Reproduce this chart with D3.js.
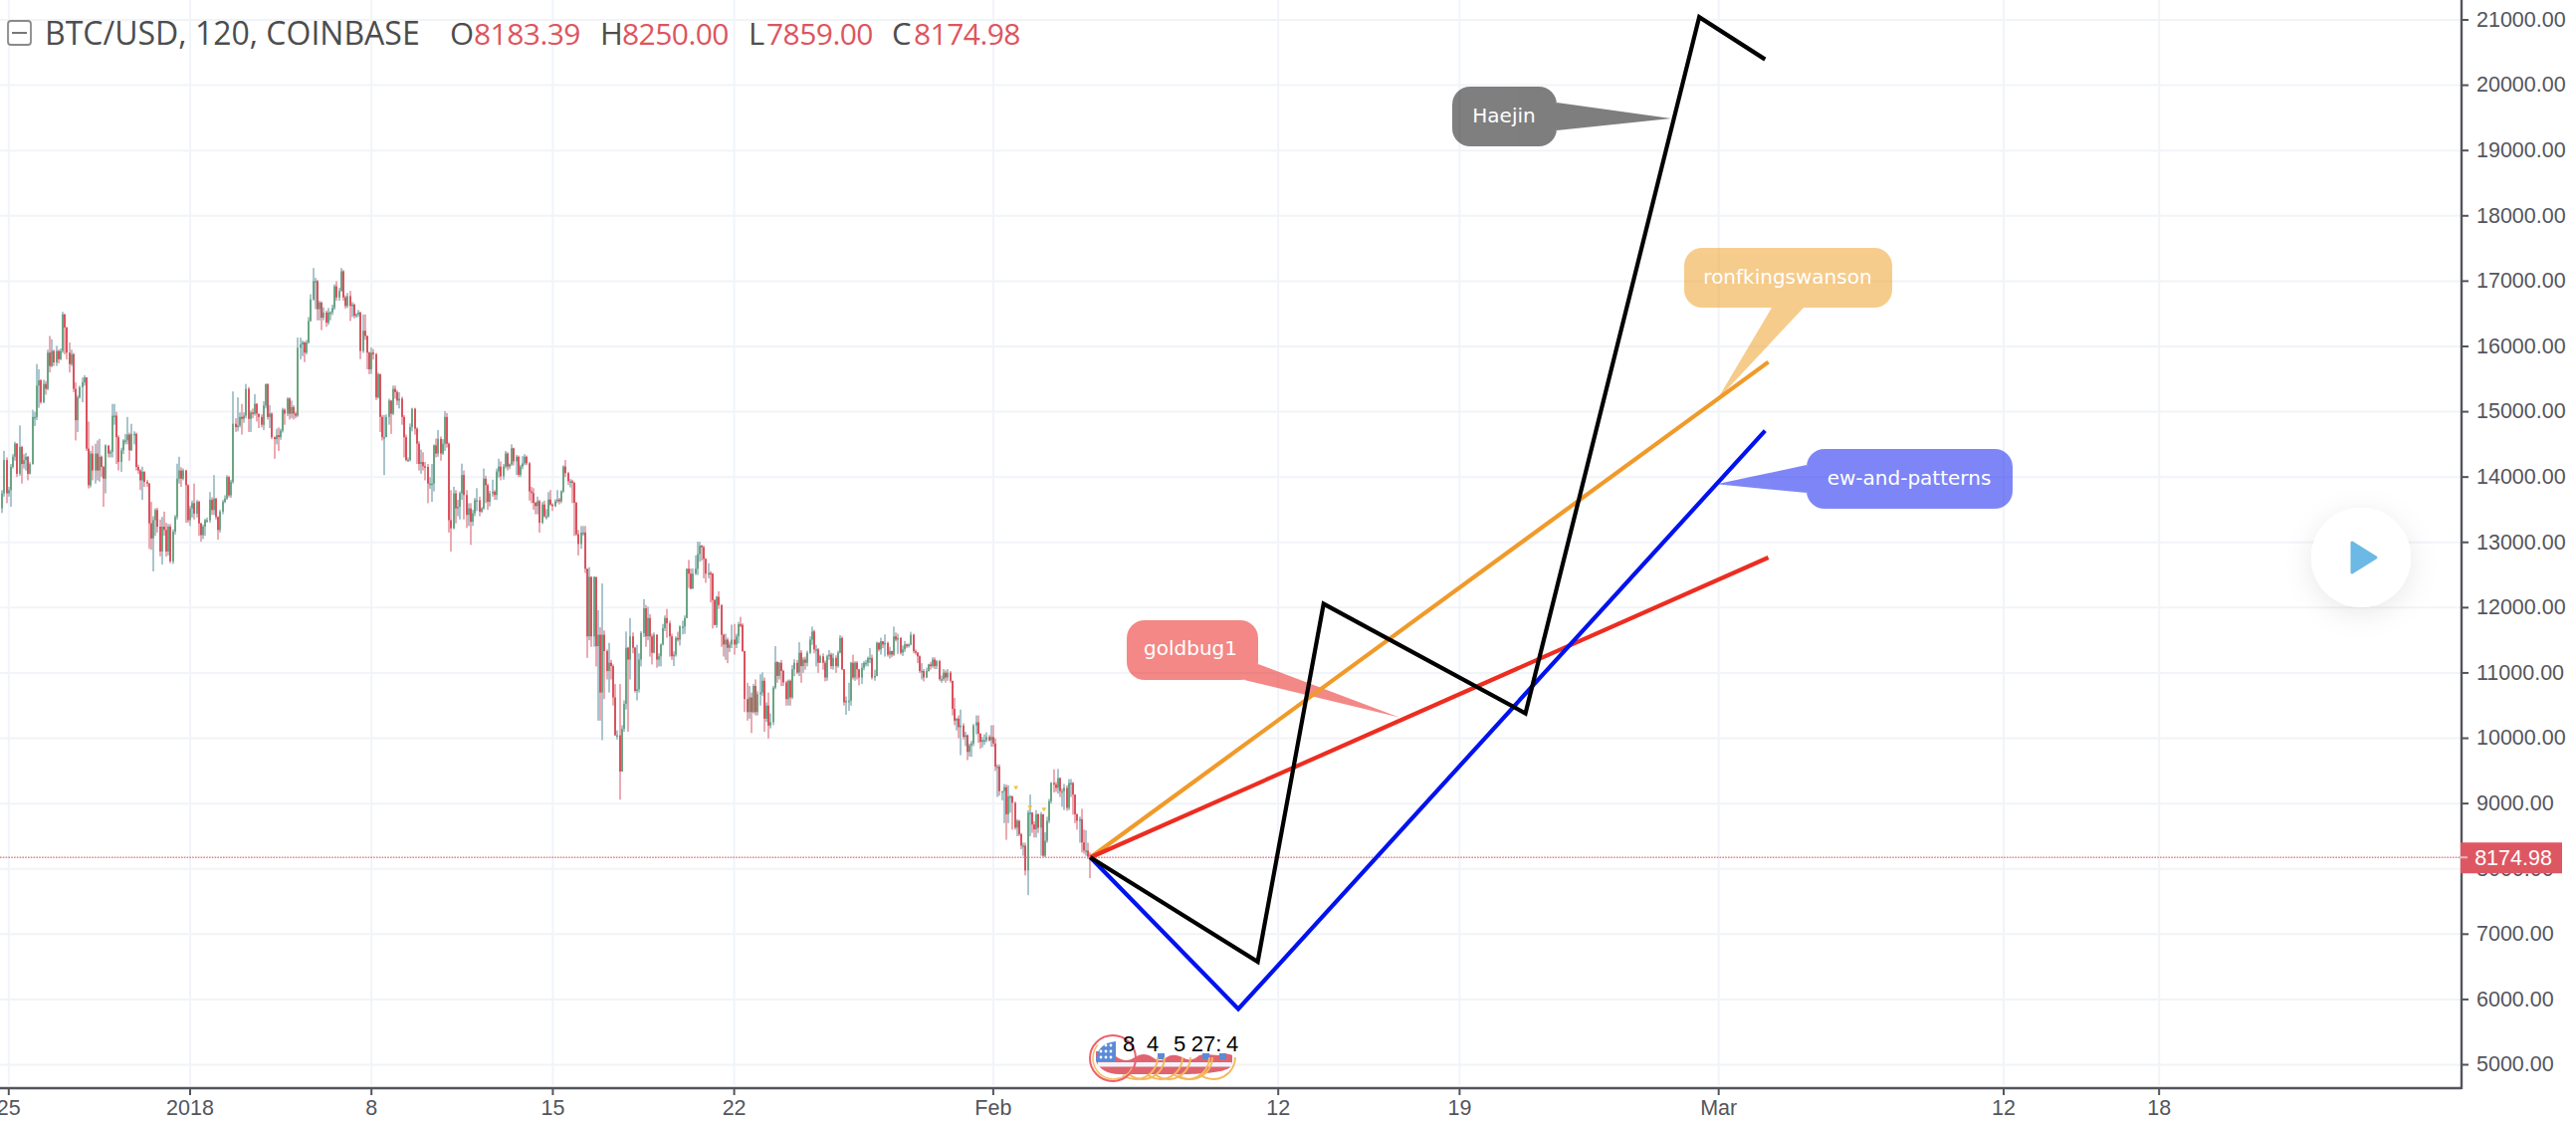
<!DOCTYPE html>
<html>
<head>
<meta charset="utf-8">
<title>BTC/USD, 120, COINBASE</title>
<script src="https://cdn.jsdelivr.net/npm/d3@7/dist/d3.min.js"></script>
<style>
  html, body { margin: 0; padding: 0; background: #fff; overflow: hidden; }
  svg { display: block; }
</style>
</head>
<body>
<svg id="chart" width="2588" height="1128"></svg>
<script>
// Two-hour candles, one row per calendar day. Each open is the previous close.
const firstOpen = 13520;
const firstBar = "2017-12-24T18:00:00Z";
const closes = [
  13750,14260,13750,
  13800,14155,14310,14510,14050,14460,14200,14260,14310,14050,14200,14920,
  14920,15400,15480,15145,15425,15350,15905,15700,15930,15755,15930,15805,
  15930,16490,16290,15905,15730,15880,15350,14870,15220,15375,15450,15525,
  14435,13875,14360,14100,14360,14100,14310,14155,13975,14485,14360,14385,
  14940,14940,14610,14230,14410,14560,14560,14650,14410,14660,14660,14155,
  14100,13950,14080,13925,13900,13290,13060,13340,13495,13240,12860,13240,
  13190,12860,13240,12710,13165,13390,13975,14100,13975,14100,13875,13340,
  13520,13600,13440,13620,13290,13110,13240,13340,13340,13650,13495,13670,
  13390,13190,13470,13620,13670,14000,13720,13925,14815,14765,14790,14920,
  14890,14940,15350,14890,14990,14970,15120,14970,14920,14800,15095,15425,
  14920,14970,14610,14580,14640,14610,14710,15030,14970,15200,14970,15070,
  14970,14940,15980,16030,16060,15905,16060,16390,16720,17000,17000,16570,
  16670,16440,16520,16365,16520,16520,16590,16920,16750,16850,17150,16750,
  16620,16770,16620,16640,16470,16490,16520,15930,16240,16160,15905,15650,
  15905,15880,15220,15575,14920,14610,14610,14920,15170,14970,15350,15300,
  15170,15200,14920,14610,14260,14260,14765,15045,14740,14510,14200,14230,
  14165,14155,13900,13900,13900,14485,14360,14585,14360,14510,14920,14510,
  13340,13215,13750,13520,13545,13750,14030,13725,13420,13520,13315,13445,
  13645,13645,13470,13520,13975,13875,13620,13750,13775,13725,14085,14160,
  14010,14160,14360,14160,14195,14440,14240,14310,14035,14160,14210,14310,
  14210,13780,13755,13605,13555,13630,13300,13580,13400,13400,13655,13580,
  13555,13630,13655,13630,13780,14160,14060,13935,13935,13910,13605,13125,
  12975,13150,13150,12595,11560,12470,11560,12470,11410,11585,10700,11585,
  11335,11030,11155,11105,10625,10045,10045,9490,10145,10525,11385,11205,
  11560,11385,10725,10750,11205,11610,11990,11560,11840,11560,11310,11585,
  11205,11255,11435,11685,11840,11760,11560,11255,11280,11535,11510,11710,
  11710,11840,12595,12520,12290,12520,12595,12820,12950,12925,12745,12520,
  12530,12520,12115,11735,12165,12040,11585,11435,11510,11385,11435,11510,
  11435,11560,11745,11735,11335,10600,10400,10625,10400,10800,10400,10675,
  10700,10880,10300,10500,10195,10245,10775,11165,10955,11155,11030,10855,
  10600,10880,10625,11055,11155,11005,11310,11105,11205,11155,11310,11510,
  11635,11360,11360,11155,11255,11155,10930,11255,11280,11105,11230,11105,
  11310,11535,11055,10550,10575,10575,11155,10930,11155,11055,10930,11080,
  11155,11155,11230,11230,10930,10955,11460,11360,11485,11435,11460,11280,
  11335,11280,11560,11510,11535,11310,11360,11435,11410,11435,11585,11335,
  11310,11255,11030,11030,10930,11030,11130,11105,11205,11105,11180,10905,
  10905,11005,10930,11005,10880,10450,10270,10300,10170,10195,10020,10045,
  9790,9890,9920,10195,10245,10070,9945,9970,9970,10020,9970,10020,
  9920,9565,9565,9190,9190,9250,8835,9110,9110,9010,8630,8735,
  8530,8355,8355,7975,8860,8860,8680,8605,8835,8630,8835,8200,
  8430,8735,9035,9315,9290,9240,9390,9190,9190,9240,8935,9315,
  9315,9137,8835,8735,8760,8405,8280,8280,8183.39,8174.98
];
const highs = [
  13800,14400,14300,
  13850,14200,14350,14540,14520,14790,14480,14350,14370,14320,14230,15030,
  15000,15730,15650,15500,15490,15470,15950,16160,16110,15950,16010,15950,
  15970,16530,16500,16300,16060,15950,15900,15450,15250,15400,15525,15560,
  15525,14850,14400,14480,14510,14560,14585,14330,14170,14500,14470,14420,
  15120,15120,15000,14640,14450,14580,14660,14920,14680,14815,14700,14680,
  14190,14120,14160,14090,13960,13910,13620,13400,13520,13530,13350,13390,
  13470,13300,13280,13280,13200,13420,14205,14310,14150,14130,14110,13890,
  13560,13640,13900,13650,13640,13300,13270,13360,13380,13770,13690,14030,
  13680,13400,13500,13650,13720,14030,14020,13960,15310,14900,15220,14990,
  15120,14990,15425,15380,15020,15050,15270,15130,14950,14960,15160,15425,
  15430,15100,14990,14620,14740,14760,14740,15060,15050,15220,15220,15170,
  15100,15000,16135,16135,16090,16080,16100,16450,16800,17200,17050,17020,
  16700,16690,16600,16550,16590,16540,16640,16950,17000,16900,17200,17170,
  16780,16820,16850,16680,16660,16510,16560,16530,16490,16490,16170,15920,
  15985,15960,15900,15600,15580,14950,14950,14960,15200,15180,15400,15400,
  15330,15300,15230,14950,14650,14300,14820,15060,15060,14760,14550,14420,
  14380,14230,14200,14000,14200,14500,14590,14720,14620,14580,15010,14980,
  14530,13800,13850,13800,13650,13780,14205,14100,13800,13600,13600,13500,
  13680,13830,13700,13540,14130,14020,13900,13790,13960,13800,14130,14280,
  14240,14200,14400,14380,14210,14500,14450,14340,14330,14190,14320,14350,
  14330,14230,13850,13830,13620,13700,13650,13620,13640,13510,13770,13800,
  13600,13660,13800,13680,13800,14180,14260,14080,13970,13960,13930,13620,
  13190,13250,13250,13250,12600,12620,12480,12480,11910,11960,11700,12370,
  11650,11360,11460,11200,11130,10830,10120,10830,10200,10580,11635,11400,
  11840,11620,11400,11430,11300,11640,12130,12040,12015,11900,11600,11620,
  11590,11300,11450,11750,11880,11980,11800,11600,11330,11560,11630,11730,
  11800,11880,12600,12730,12600,12600,12800,13010,13010,12960,12950,12760,
  12680,12560,12530,12130,12180,12250,12050,11600,11600,11540,11480,11740,
  11750,11600,11780,11860,11760,11340,10850,10800,10700,10830,10900,10720,
  10980,11010,10930,10550,10700,10380,10800,11410,11180,11165,11200,11050,
  10880,10900,10900,11120,11210,11200,11470,11350,11240,11250,11340,11560,
  11710,11660,11430,11380,11280,11300,11190,11280,11350,11310,11300,11270,
  11340,11580,11560,11060,10640,10850,11170,11280,11180,11180,11060,11150,
  11180,11200,11250,11380,11280,11050,11480,11470,11540,11490,11590,11480,
  11400,11340,11710,11620,11600,11550,11420,11490,11450,11450,11630,11600,
  11360,11320,11270,11150,11060,11080,11140,11170,11240,11240,11200,11200,
  10960,11060,11040,11060,11030,10880,10620,10310,10350,10440,10230,10100,
  10060,9920,9960,10220,10350,10350,10080,10020,10060,10090,10050,10200,
  10200,10000,9600,9600,9190,9300,9290,9280,9130,9120,9030,8760,
  8750,8550,8400,8400,8900,9137,8870,8730,8900,8850,8870,8840,
  8560,8800,9070,9330,9526,9330,9530,9400,9230,9300,9280,9375,
  9375,9330,9140,8850,8800,8920,8600,8590,8400,8250
];
const lows = [
  13450,13700,13600,
  13700,13545,14130,14250,14000,14020,13900,14130,14100,13950,14040,14190,
  14780,14870,15060,15120,15130,15260,15330,15600,15680,15700,15700,15740,
  15790,15900,15880,15800,15600,15700,15300,14560,14690,15200,15145,15400,
  14400,13825,13840,13950,13900,13950,13930,14000,13545,13750,14300,14300,
  14300,14800,14200,14100,14080,14350,14500,14500,14250,14400,14500,14100,
  14050,13800,13650,13850,13850,12900,12885,12555,13100,13150,12785,12660,
  13100,12780,12800,12680,12670,13120,13350,13900,13850,13950,13300,13300,
  13250,13380,13350,13380,13100,13010,13050,13100,13300,13300,13420,13420,
  13350,13040,13150,13430,13600,13650,13690,13680,13900,14690,14700,14760,
  14650,14830,14900,14690,14690,14900,14940,14850,14750,14760,14720,15050,
  14880,14750,14580,14280,14500,14400,14570,14680,14800,14930,14880,14900,
  14880,14900,14920,15800,15850,15760,15880,16040,16380,16700,16570,16400,
  16400,16250,16400,16300,16330,16400,16480,16560,16700,16700,16840,16700,
  16580,16590,16390,16450,16430,16440,16450,15805,15900,16100,15650,15575,
  15580,15800,15180,15200,14690,14560,14030,14660,14800,14660,14950,15200,
  15100,15050,14800,14300,14240,14240,14240,14700,14650,14200,14100,14050,
  14100,13950,13600,13820,13620,13780,14300,14310,14250,14340,14400,14450,
  13150,12860,13200,13290,13400,13350,13650,13350,13220,13250,12960,13250,
  13400,13480,13400,13450,13500,13600,13500,13550,13700,13650,13650,13990,
  13950,13960,14130,14100,14120,14170,14180,14030,14000,14000,14120,14180,
  14180,13640,13600,13500,13430,13430,13150,13280,13380,13350,13380,13560,
  13480,13540,13600,13580,13600,13760,14000,13880,13840,13600,13100,13100,
  12800,12900,13100,12530,11230,11500,11400,11400,11100,10270,10270,9970,
  10600,10900,10700,10900,10500,10040,9980,9060,9820,10100,10440,10100,
  10900,11300,10700,10580,10700,11100,11550,11400,11500,11250,11130,11300,
  11080,11100,11100,11420,11640,11540,11250,11200,11105,11250,11480,11420,
  11590,11600,11840,12300,12280,12290,12500,12500,12700,12720,12450,12380,
  12450,12080,11680,11730,11690,11980,11400,11250,11200,11150,11320,11380,
  11280,11380,11450,11700,11320,10400,10270,10300,10080,10380,10350,10350,
  10500,10650,10100,10250,9995,10150,10200,10750,10850,10900,10800,10800,
  10500,10500,10500,10600,10950,10980,10950,10850,11000,11050,11100,11290,
  11430,11300,11100,11000,11150,11050,10870,10880,11200,11060,11050,11000,
  11080,11300,11040,10500,10360,10420,10500,10900,10880,10900,10810,10830,
  11040,11100,11100,11150,10900,10880,10950,11330,11280,11380,11250,11250,
  11220,11240,11260,11480,11290,11280,11260,11320,11380,11390,11420,11300,
  11280,11150,11000,10900,10870,10920,11020,11050,11080,11060,11060,10880,
  10850,10880,10850,10880,10850,10350,10200,10120,10000,9740,9980,9880,
  9665,9720,9715,9880,10060,9930,9840,9860,9900,9940,9950,9870,
  9870,9500,9100,9120,9050,8700,8445,8700,8860,8600,8600,8500,
  8500,8300,8200,7900,7597,8500,8550,8480,8480,8550,8200,8180,
  8180,8400,8700,9000,9170,9180,9150,9100,8950,8900,8890,8900,
  9100,8830,8700,8600,8400,8250,8230,8200,8150,7859
];

// Readout in the chart header
const symbolTitle = "BTC/USD, 120, COINBASE";
const ohlcKeys = ["O", "H", "L", "C"];
const ohlcValues = ["8183.39", "8250.00", "7859.00", "8174.98"];
const lastPrice = 8174.98;

// Axis ticks
const priceTicks = d3.range(5000, 21001, 1000);
const dateTicks = ["2017-12-25", "2018-01-01", "2018-01-08", "2018-01-15", "2018-01-22", "2018-02-01",
                   "2018-02-12", "2018-02-19", "2018-03-01", "2018-03-12", "2018-03-18"];
const dateTickLabels = ["25", "2018", "8", "15", "22", "Feb", "12", "19", "Mar", "12", "18"];

// Forecast paths drawn from the last close
const anchor = ["2018-02-04T18:00:00Z", 8174.98];
const forecastNames = ["orange", "red", "blue", "black"];
const forecastColors = ["#f09a2a", "#ec2d20", "#0012ee", "#000000"];
const forecastDates = [
  [anchor[0], "2018-03-02T22:00:00Z"],
  [anchor[0], "2018-03-02T22:00:00Z"],
  [anchor[0], "2018-02-10T11:00:00Z", "2018-03-02T19:00:00Z"],
  [anchor[0], "2018-02-11T05:00:00Z", "2018-02-13T18:00:00Z", "2018-02-21T13:00:00Z", "2018-02-28T06:00:00Z", "2018-03-02T19:00:00Z"]
];
const forecastValues = [
  [anchor[1], 15762],
  [anchor[1], 12767],
  [anchor[1], 5854, 14710],
  [anchor[1], 6578, 12058, 10381, 21044, 20396]
];

// Author callouts pointing at the forecast paths
const calloutNames = ["Haejin", "ronfkingswanson", "ew-and-patterns", "goldbug1"];
const calloutColors = ["#000000", "#ef9b1b", "#0010f0", "#e81410"];
const calloutTipDates = ["2018-02-27T04:00:00Z", "2018-02-28T22:00:00Z", "2018-02-28T22:00:00Z", "2018-02-16T16:00:00Z"];
const calloutTipValues = [19490, 15170, 13890, 10320];

// Small event flags above the candles
const eventDates = ["2018-02-01T21:00:00Z", "2018-02-02T10:00:00Z", "2018-02-02T23:00:00Z"];
const eventValues = [9238, 8937, 8907];

// Countdown digits on the flag badge
const badgeDigits = ["8", "4", "5", "27:", "4"];

const layout = {
  axisX: 2473, axisY: 1093,
  callouts: [
    { box: [1459, 87, 105, 60], tail: [[1564, 103], [1564, 131]], tx: 1511, ty: 116 },
    { box: [1692, 249, 209, 60], tail: [[1780, 309], [1812, 309]], tx: 1796, ty: 278 },
    { box: [1815, 451, 207, 60], tail: [[1815, 467], [1815, 495]], tx: 1918, ty: 480 },
    { box: [1132, 623, 132, 60], tail: [[1264, 667], [1250, 683]], tx: 1196, ty: 651 }
  ]
};

const parse = s => new Date(s);
const svg = d3.select("#chart");

const x = d3.scaleUtc()
  .domain([parse("2018-01-01T00:00:00Z"), parse("2018-03-12T00:00:00Z")])
  .range([191, 2013]);
const y = d3.scaleLinear().domain([5000, 21000]).range([1069.5, 20]);

// Grid
const gridColor = "#f1f4f8";
const grid = svg.append("g");
grid.selectAll("line.h").data(priceTicks).join("line")
  .attr("x1", 0).attr("x2", layout.axisX)
  .attr("y1", d => y(d)).attr("y2", d => y(d))
  .attr("stroke", gridColor).attr("stroke-width", 2);
grid.selectAll("line.v").data(dateTicks).join("line")
  .attr("x1", d => x(parse(d + "T00:00:00Z"))).attr("x2", d => x(parse(d + "T00:00:00Z")))
  .attr("y1", 0).attr("y2", 1090)
  .attr("stroke", gridColor).attr("stroke-width", 2);

// Candles
const t0 = parse(firstBar).getTime();
const candles = closes.map((c, i) => ({
  time: new Date(t0 + i * 2 * 3600 * 1000),
  open: i === 0 ? firstOpen : closes[i - 1],
  close: c, high: highs[i], low: lows[i]
}));
const upBody = "#6ba583", downBody = "#d9535f", upWick = "#aac5cd", downWick = "#ebaab2";
const barW = 2;
const bars = svg.append("g");
bars.selectAll("rect.wick").data(candles).join("rect")
  .attr("class", "wick")
  .attr("x", d => Math.round(x(d.time)) - barW / 2)
  .attr("width", barW)
  .attr("y", d => y(d.high))
  .attr("height", d => Math.max(1, y(d.low) - y(d.high)))
  .attr("fill", d => d.close >= d.open ? upWick : downWick);
bars.selectAll("rect.body").data(candles).join("rect")
  .attr("class", "body")
  .attr("x", d => Math.round(x(d.time)) - barW / 2)
  .attr("width", barW)
  .attr("y", d => y(Math.max(d.open, d.close)))
  .attr("height", d => Math.max(1.5, Math.abs(y(d.open) - y(d.close))))
  .attr("fill", d => d.close >= d.open ? upBody : downBody);

// Event flags
svg.append("g").selectAll("path").data(eventDates).join("path")
  .attr("d", (d, i) => {
    const px = x(parse(d)), py = y(eventValues[i]);
    return `M${px - 2.5},${py - 2} L${px + 2.5},${py - 2} L${px},${py + 2} Z`;
  })
  .attr("fill", "#f0c33c");

// Last price line
svg.append("line")
  .attr("x1", 0).attr("x2", layout.axisX)
  .attr("y1", y(lastPrice)).attr("y2", y(lastPrice))
  .attr("stroke", "#e8848c").attr("stroke-width", 1.6).attr("stroke-dasharray", "1.6 1.2");

// Callout balloons sit under the forecast paths
const cg = svg.append("g");
calloutNames.forEach((name, i) => {
  const c = layout.callouts[i];
  const tip = [x(parse(calloutTipDates[i])), y(calloutTipValues[i])];
  const g = cg.append("g").attr("opacity", 0.5);
  g.append("rect")
    .attr("x", c.box[0]).attr("y", c.box[1]).attr("width", c.box[2]).attr("height", c.box[3])
    .attr("rx", 18).attr("fill", calloutColors[i]);
  g.append("path")
    .attr("d", d3.line()([c.tail[0], tip, c.tail[1]]) + "Z")
    .attr("fill", calloutColors[i]);
});

// Forecast paths
const lineGen = d3.line().x(d => x(parse(d[0]))).y(d => y(d[1]));
svg.append("g").selectAll("path").data(forecastNames).join("path")
  .attr("d", (n, i) => lineGen(forecastDates[i].map((d, k) => [d, forecastValues[i][k]])))
  .attr("fill", "none")
  .attr("stroke", (n, i) => forecastColors[i])
  .attr("stroke-width", 4.2)
  .attr("stroke-linejoin", "miter");

// Callout names
svg.append("g").selectAll("text").data(calloutNames).join("text")
  .attr("x", (d, i) => layout.callouts[i].tx)
  .attr("y", (d, i) => layout.callouts[i].ty)
  .attr("text-anchor", "middle").attr("dominant-baseline", "central")
  .attr("font-family", "'DejaVu Sans', sans-serif").attr("font-size", 20)
  .attr("fill", "#fff")
  .text(d => d);

// Flag badge with the countdown
const badge = svg.append("g");
const wave = "M1101,1056 L1121,1056 L1121,1061 C1128,1066 1134,1066 1140,1062 C1146,1058 1152,1058 1158,1062 C1163,1066 1168,1066 1172,1062 C1178,1058 1184,1060 1190,1063 C1196,1066 1200,1064 1205,1060 C1212,1058 1218,1060 1224,1060 C1230,1058 1234,1058 1238,1060 L1238,1066 L1236,1072 C1230,1078 1200,1079 1190,1079 L1125,1079 C1112,1079 1105,1074 1101,1066 Z";
badge.append("path").attr("d", wave).attr("fill", "#df6470");
badge.append("rect").attr("x", 1103).attr("y", 1067).attr("width", 134).attr("height", 4.5).attr("fill", "#eff2fa");
badge.append("path")
  .attr("d", "M1101,1066 C1101,1054 1109,1047 1121,1046 L1121,1066 Z")
  .attr("fill", "#5b8ad6");
badge.selectAll("circle.star").data([1106, 1111, 1116, 1106, 1111, 1116, 1111, 1116]).join("circle")
  .attr("class", "star")
  .attr("cx", d => d)
  .attr("cy", (d, i) => i < 3 ? 1062 : i < 6 ? 1056 : 1050)
  .attr("r", 1.4).attr("fill", "#fff");
badge.selectAll("rect.chip").data([1163, 1208, 1225]).join("rect")
  .attr("class", "chip")
  .attr("x", d => d).attr("y", 1058).attr("width", 7).attr("height", 6)
  .attr("fill", "#5b8ad6");
const arcCenters = [1141, 1148, 1166, 1174, 1193, 1196, 1219];
const arcPath = d3.arc().innerRadius(22).outerRadius(22)
  .startAngle(Math.PI * 0.5).endAngle(Math.PI * 1.2);
badge.selectAll("path.arc").data(arcCenters).join("path")
  .attr("class", "arc")
  .attr("d", () => arcPath())
  .attr("transform", d => `translate(${d},1062)`)
  .attr("fill", "none").attr("stroke", "#f5b95c").attr("stroke-width", 1.8);
badge.append("circle").attr("cx", 1119).attr("cy", 1063).attr("r", 21)
  .attr("fill", "none").attr("stroke", "#f7c068").attr("stroke-width", 1.6)
  .attr("stroke-dasharray", "70 62").attr("stroke-dashoffset", -10);
badge.append("circle").attr("cx", 1118).attr("cy", 1063).attr("r", 23)
  .attr("fill", "none").attr("stroke", "#ee5f6b").attr("stroke-width", 2);
const digitX = [1134, 1158, 1185, 1212, 1238];
badge.selectAll("text").data(badgeDigits).join("text")
  .attr("x", (d, i) => digitX[i]).attr("y", 1048)
  .attr("text-anchor", "middle").attr("dominant-baseline", "central")
  .attr("font-family", "'Liberation Sans', sans-serif").attr("font-size", 22)
  .attr("fill", "#000")
  .text(d => d);

// Axes
const axisColor = "#53555c";
const yAxis = d3.axisRight(y).tickValues(priceTicks).tickSize(7).tickPadding(8)
  .tickFormat(d3.format(".2f")).offset(0);
const yG = svg.append("g").attr("transform", `translate(${layout.axisX},0)`).call(yAxis);
const xAxis = d3.axisBottom(x).tickValues(dateTicks.map(d => parse(d + "T00:00:00Z"))).tickSize(7).tickPadding(5)
  .tickFormat((d, i) => dateTickLabels[i]).offset(0);
const xG = svg.append("g").attr("transform", `translate(0,${layout.axisY})`).call(xAxis);
[yG, xG].forEach(g => {
  g.select(".domain").remove();
  g.selectAll(".tick line").attr("stroke", axisColor).attr("stroke-width", 2);
  g.selectAll(".tick text")
    .attr("font-family", "'Liberation Sans', Arial, sans-serif")
    .attr("font-size", 21.5)
    .attr("fill", axisColor);
});
svg.append("line").attr("x1", layout.axisX).attr("x2", layout.axisX).attr("y1", 0).attr("y2", layout.axisY + 1)
  .attr("stroke", axisColor).attr("stroke-width", 2.4);
svg.append("line").attr("x1", 0).attr("x2", layout.axisX).attr("y1", layout.axisY).attr("y2", layout.axisY)
  .attr("stroke", axisColor).attr("stroke-width", 2.4);

// Last price tag on the scale
const tagY = y(lastPrice);
svg.append("rect").attr("x", layout.axisX - 1).attr("y", tagY - 15).attr("width", 102).attr("height", 31)
  .attr("fill", "#dd5763");
svg.append("line").attr("x1", layout.axisX - 1).attr("x2", layout.axisX + 6).attr("y1", tagY).attr("y2", tagY)
  .attr("stroke", "#f2b7bc").attr("stroke-width", 2);
svg.append("text").attr("x", 2525).attr("y", tagY + 1)
  .attr("text-anchor", "middle").attr("dominant-baseline", "central")
  .attr("font-family", "'Liberation Sans', Arial, sans-serif").attr("font-size", 21.5)
  .attr("fill", "#fff").text(d3.format(".2f")(lastPrice));

// Play button
const defs = svg.append("defs");
const shadow = defs.append("filter").attr("id", "soft").attr("x", "-60%").attr("y", "-60%").attr("width", "220%").attr("height", "220%");
shadow.append("feDropShadow").attr("dx", 0).attr("dy", 6).attr("stdDeviation", 14)
  .attr("flood-color", "#000").attr("flood-opacity", 0.09);
svg.append("circle").attr("cx", 2372).attr("cy", 560).attr("r", 50).attr("fill", "#fff").attr("filter", "url(#soft)");
svg.append("path").attr("d", "M2363,545 L2387,560 L2363,575 Z")
  .attr("fill", "#6bb9e4").attr("stroke", "#6bb9e4").attr("stroke-width", 3).attr("stroke-linejoin", "round");

// Header
const head = svg.append("g").attr("font-family", "'Open Sans', sans-serif");
head.append("rect").attr("x", 8).attr("y", 21).attr("width", 23).attr("height", 24).attr("rx", 3)
  .attr("fill", "none").attr("stroke", "#8a8a8a").attr("stroke-width", 1.8);
head.append("line").attr("x1", 12).attr("x2", 27).attr("y1", 33).attr("y2", 33)
  .attr("stroke", "#777").attr("stroke-width", 2);
head.append("text").attr("x", 45).attr("y", 45).attr("font-size", 32).attr("fill", "#4d4d4d").text(symbolTitle);
const keyX = [452, 603, 752, 896];
const valX = [476, 625, 770, 918];
ohlcKeys.forEach((k, i) => {
  head.append("text").attr("x", keyX[i]).attr("y", 45).attr("font-size", 31).attr("fill", "#4d4d4d").text(k);
  head.append("text").attr("x", valX[i]).attr("y", 45).attr("font-size", 30).attr("letter-spacing", -0.55)
    .attr("fill", "#dd5560").text(ohlcValues[i]);
});
</script>
</body>
</html>
